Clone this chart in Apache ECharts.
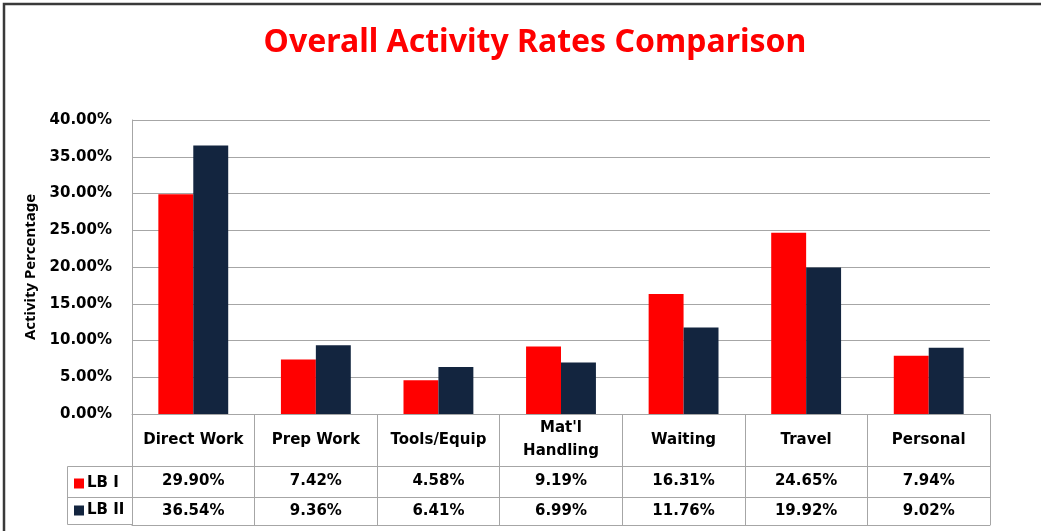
<!DOCTYPE html>
<html>
<head>
<meta charset="utf-8">
<script src="https://cdn.jsdelivr.net/npm/echarts@6/dist/echarts.min.js"></script>
<style>
  html, body { margin: 0; padding: 0; background: #fff; }
  #chart-box { width: 1041px; height: 531px; }
</style>
</head>
<body>
<div id="chart-box"></div>
<script>
// chart values (percent)
var categories = ['Direct Work', 'Prep Work', 'Tools/Equip', "Mat'l\nHandling", 'Waiting', 'Travel', 'Personal'];
var lb1 = [29.90, 7.42, 4.58, 9.19, 16.31, 24.65, 7.94];
var lb2 = [36.54, 9.36, 6.41, 6.99, 11.76, 19.92, 9.02];
var seriesNames = ['LB I', 'LB II'];
var yMin = 0, yMax = 40, yStep = 5;

var RED = '#ff0000';
var NAVY = '#13253f';
var GRID = '#a6a6a6';
var FONT = 'DejaVu Sans';

function pct(v) { return v.toFixed(2) + '%'; }

var chartDom = document.getElementById('chart-box');
var chart = echarts.init(chartDom);

var labelStyle = {
  fontFamily: FONT,
  fontWeight: 'bold',
  fontSize: 15,
  color: '#000',
  verticalAlign: 'middle',
  lineHeight: 23
};

function tableAxis(data, offset, tickLen, margin, showLabel) {
  return {
    type: 'category',
    position: 'bottom',
    offset: offset,
    data: data,
    axisLine: { show: true, lineStyle: { color: GRID, width: 1 } },
    axisTick: { show: tickLen > 0, length: tickLen, lineStyle: { color: GRID } },
    axisLabel: Object.assign({ show: showLabel, margin: margin, interval: 0 }, labelStyle),
    splitLine: { show: false }
  };
}

var option = {
  animation: false,
  backgroundColor: '#fff',
  title: {
    text: 'Overall Activity Rates Comparison',
    left: 530,
    top: 22,
    textAlign: 'center',
    textStyle: {
      fontFamily: 'Noto Sans',
      fontWeight: 'bold',
      fontSize: 32,
      color: RED
    }
  },
  legend: {
    orient: 'vertical',
    left: 69,
    top: 471,
    itemWidth: 10,
    itemHeight: 10,
    itemGap: 12,
    icon: 'rect',
    data: seriesNames,
    textStyle: { fontFamily: FONT, fontWeight: 'bold', fontSize: 15, color: '#000', padding: [0, 0, 0, -2] }
  },
  grid: {
    left: 132,
    right: 51,
    top: 120,
    bottom: 117,
    containLabel: false
  },
  xAxis: [
    tableAxis(categories, 0, 52, 26, true),
    tableAxis(lb1.map(pct), 52, 31, 15.5, true),
    tableAxis(lb2.map(pct), 83, 28, 14, true),
    tableAxis(categories, 111, 0, 0, false)
  ],
  yAxis: {
    type: 'value',
    min: yMin,
    max: yMax,
    interval: yStep,
    name: 'Activity Percentage',
    nameLocation: 'middle',
    nameGap: 91,
    nameTextStyle: { fontFamily: 'Noto Sans', fontWeight: 'bold', fontSize: 15, color: '#000' },
    axisLine: { show: true, lineStyle: { color: GRID } },
    axisTick: { show: false },
    axisLabel: {
      margin: 20,
      fontFamily: FONT,
      fontWeight: 'bold',
      fontSize: 15,
      color: '#000',
      formatter: pct
    },
    splitLine: { show: true, lineStyle: { color: GRID, width: 1 } }
  },
  series: [
    {
      name: seriesNames[0],
      type: 'bar',
      xAxisIndex: 0,
      data: lb1,
      barGap: '0%',
      barCategoryGap: '43%',
      itemStyle: { color: RED }
    },
    {
      name: seriesNames[1],
      type: 'bar',
      xAxisIndex: 0,
      data: lb2,
      barGap: '0%',
      barCategoryGap: '43%',
      itemStyle: { color: NAVY }
    }
  ],
  graphic: [
    {
      type: 'rect',
      shape: { x: 4, y: 4, width: 1100, height: 600 },
      style: { fill: null, stroke: '#3a3a3a', lineWidth: 2.5 },
      silent: true
    },
    {
      type: 'rect',
      shape: { x: 67.5, y: 466.5, width: 65, height: 58 },
      style: { fill: null, stroke: GRID, lineWidth: 1 },
      silent: true
    },
    {
      type: 'line',
      shape: { x1: 67.5, y1: 497.5, x2: 132.5, y2: 497.5 },
      style: { stroke: GRID, lineWidth: 1 },
      silent: true
    }
  ]
};

option && chart.setOption(option);
</script>
</body>
</html>
